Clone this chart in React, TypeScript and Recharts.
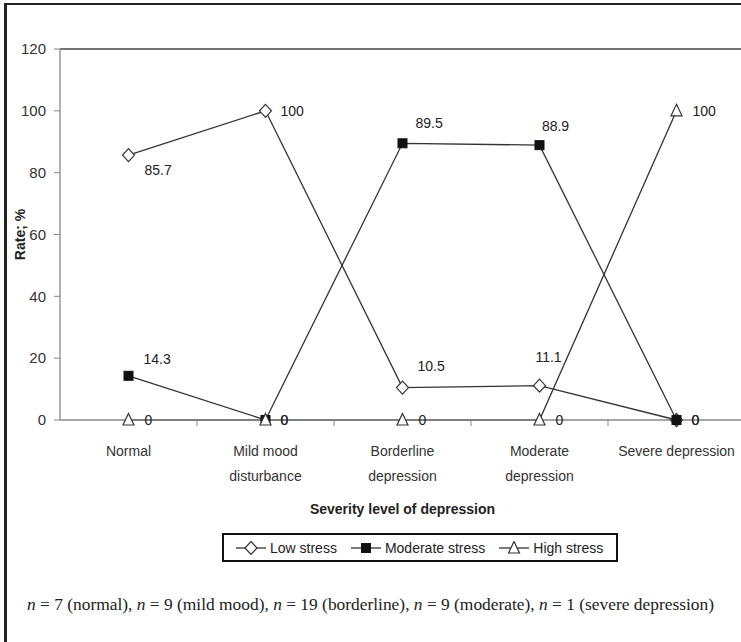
import React from 'react';
import { LineChart, Line, XAxis, YAxis, ReferenceLine, LabelList, Label } from 'recharts';

const categories = ['Normal', 'Mild mood\ndisturbance', 'Borderline\ndepression', 'Moderate\ndepression', 'Severe depression'];
const lowStress = [85.7, 100, 10.5, 11.1, 0];
const moderateStress = [14.3, 0, 89.5, 88.9, 0];
const highStress = [0, 0, 0, 0, 100];
const yTicks = [0, 20, 40, 60, 80, 100, 120];

const data = categories.map((cat, i) => ({
  cat,
  low: lowStress[i],
  moderate: moderateStress[i],
  high: highStress[i],
}));

const FONT = '"Liberation Sans", Arial, sans-serif';
const INK = '#333';

// where each value label sits relative to its point
const labelPlace: Record<string, [number, number, string][]> = {
  low: [[16, 15, 'start'], [15, 0, 'start'], [15, -21, 'start'], [9, -29, 'middle'], [15, 0, 'start']],
  moderate: [[15, -17, 'start'], [15, 0, 'start'], [13, -20, 'start'], [16, -19, 'middle'], [15, 0, 'start']],
  high: [[16, 0, 'start'], [15, 0, 'start'], [16, 0, 'start'], [16, 0, 'start'], [16, 0, 'start']],
};

const valueLabel = (key: string) => (props: any) => {
  const { x, y, value, index } = props;
  const [dx, dy, anchor] = labelPlace[key][index];
  return (
    <text x={x + dx} y={y + dy} dy="0.35em" textAnchor={anchor as any} fontSize={14} fontFamily={FONT} fill="#222">
      {value}
    </text>
  );
};

const Diamond = ({ cx, cy }: any) => (
  <polygon points={`${cx},${cy - 6.5} ${cx + 6},${cy} ${cx},${cy + 6.5} ${cx - 6},${cy}`} fill="#fff" stroke={INK} strokeWidth={1.2} />
);
const Square = ({ cx, cy }: any) => <rect x={cx - 4.5} y={cy - 4.5} width={9} height={9} fill="#111" stroke="#111" />;
const Triangle = ({ cx, cy }: any) => (
  <polygon points={`${cx},${cy - 6.5} ${cx + 5.5},${cy + 5} ${cx - 5.5},${cy + 5}`} fill="#fff" stroke={INK} strokeWidth={1.2} />
);

// category label plus the boundary tick mark on its left (Excel style)
const CatTick = ({ x, y, payload, index }: any) => {
  const lines = String(payload.value).split('\n');
  const half = payload.offset ?? 0;
  const axisY = y - 8;
  return (
    <g>
      {index > 0 && half > 0 && (
        <line x1={x - half} y1={axisY} x2={x - half} y2={axisY + 6} stroke="#888" strokeWidth={1} />
      )}
      <text x={x} y={y + 28} textAnchor="middle" fontSize={14} fontFamily={FONT} fill="#333">
        {lines.map((l, i) => (
          <tspan key={i} x={x} dy={i === 0 ? 0 : 25}>
            {l}
          </tspan>
        ))}
      </text>
    </g>
  );
};

const LegendSample = ({ shape }: { shape: string }) => (
  <svg width={30} height={14} style={{ display: 'block' }}>
    <line x1={0} y1={7} x2={30} y2={7} stroke={INK} strokeWidth={1.3} />
    {shape === 'diamond' && <Diamond cx={15} cy={7} />}
    {shape === 'square' && <Square cx={15} cy={7} />}
    {shape === 'triangle' && <Triangle cx={15} cy={7} />}
  </svg>
);

const legendItems = [
  { name: 'Low stress', shape: 'diamond' },
  { name: 'Moderate stress', shape: 'square' },
  { name: 'High stress', shape: 'triangle' },
];

export default function App() {
  return (
    <div style={{ position: 'absolute', left: 0, top: 0, width: 741, height: 642, overflow: 'hidden', background: '#fff' }}>
      <div style={{ position: 'absolute', left: 0, top: 0 }}>
        <LineChart width={770} height={530} data={data} margin={{ top: 49, right: 25, bottom: 0, left: 0 }}>
          <XAxis
            dataKey="cat"
            scale="band"
            interval={0}
            tickLine={false}
            tickSize={8}
            tickMargin={0}
            axisLine={{ stroke: '#888', strokeWidth: 1.3 }}
            tick={<CatTick />}
            height={110}
          >
            <Label
              content={({ viewBox }: any) => (
                <text
                  x={viewBox.x + viewBox.width / 2}
                  y={viewBox.y + 94}
                  textAnchor="middle"
                  fontSize={14}
                  fontWeight="bold"
                  fontFamily={FONT}
                  fill="#222"
                >
                  Severity level of depression
                </text>
              )}
            />
          </XAxis>
          <YAxis
            domain={[0, 120]}
            ticks={yTicks}
            width={60}
            axisLine={{ stroke: '#888', strokeWidth: 1.3 }}
            tickLine={{ stroke: '#888' }}
            tickSize={6}
            tickMargin={8}
            tick={{ fontSize: 15, fontFamily: FONT, fill: '#333' }}
          >
            <Label
              content={({ viewBox }: any) => {
                const cx = viewBox.x + 20;
                const cy = viewBox.y + viewBox.height / 2;
                return (
                  <text
                    x={cx}
                    y={cy}
                    transform={`rotate(-90 ${cx} ${cy})`}
                    textAnchor="middle"
                    dy="0.35em"
                    fontSize={14}
                    fontWeight="bold"
                    fontFamily={FONT}
                    fill="#222"
                  >
                    Rate; %
                  </text>
                );
              }}
            />
          </YAxis>
          <ReferenceLine y={120} stroke="#444" strokeWidth={1.5} />
          <Line dataKey="low" stroke={INK} strokeWidth={1.3} dot={<Diamond />} isAnimationActive={false}>
            <LabelList dataKey="low" content={valueLabel('low')} />
          </Line>
          <Line dataKey="moderate" stroke={INK} strokeWidth={1.3} dot={<Square />} isAnimationActive={false}>
            <LabelList dataKey="moderate" content={valueLabel('moderate')} />
          </Line>
          <Line dataKey="high" stroke={INK} strokeWidth={1.3} dot={<Triangle />} isAnimationActive={false}>
            <LabelList dataKey="high" content={valueLabel('high')} />
          </Line>
        </LineChart>
      </div>

      <div
        style={{
          position: 'absolute',
          left: 222,
          top: 533,
          width: 380,
          height: 25,
          border: '2px solid #111',
          display: 'flex',
          alignItems: 'center',
          paddingLeft: 12,
          boxSizing: 'content-box',
          fontFamily: FONT,
          fontSize: 14,
          color: '#222',
          whiteSpace: 'nowrap',
        }}
      >
        {legendItems.map((it) => (
          <div key={it.name} style={{ display: 'flex', alignItems: 'center', marginRight: 14, flexShrink: 0 }}>
            <LegendSample shape={it.shape} />
            <span style={{ marginLeft: 4 }}>{it.name}</span>
          </div>
        ))}
      </div>

      <div
        style={{
          position: 'absolute',
          left: 0,
          top: 594,
          width: 741,
          textAlign: 'center',
          fontFamily: '"Liberation Serif", "DejaVu Serif", serif',
          fontSize: 17.4,
          color: '#222',
          whiteSpace: 'nowrap',
        }}
      >
        <i>n</i> = 7 (normal), <i>n</i> = 9 (mild mood), <i>n</i> = 19 (borderline), <i>n</i> = 9 (moderate), <i>n</i> = 1 (severe depression)
      </div>

      <div style={{ position: 'absolute', left: 4, top: 3, width: 3, height: 639, background: '#222' }} />
      <div style={{ position: 'absolute', left: 4, top: 3, width: 737, height: 2, background: '#222' }} />
    </div>
  );
}
